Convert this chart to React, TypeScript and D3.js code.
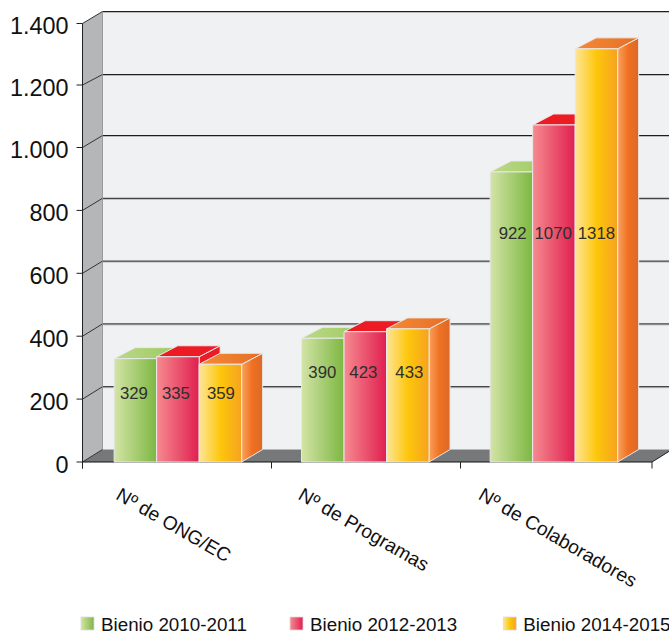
import React from "react";
import * as d3 from "d3";

const categories = ["Nº de ONG/EC", "Nº de Programas", "Nº de Colaboradores"];
const seriesNames = ["Bienio 2010-2011", "Bienio 2012-2013", "Bienio 2014-2015"];
// heights as drawn in the picture
const barsOng = [330, 336, 312];
const barsProgramas = [395, 416, 425];
const barsColaboradores = [926, 1076, 1319];
// printed labels on the bars
const labelsOng = ["329", "335", "359"];
const labelsProgramas = ["390", "423", "433"];
const labelsColaboradores = ["922", "1070", "1318"];
const labelHeights = [221, 287, 731];
const tickValues = [0, 200, 400, 600, 800, 1000, 1200, 1400];

const barRows = [barsOng, barsProgramas, barsColaboradores];
const labelRows = [labelsOng, labelsProgramas, labelsColaboradores];

const W = 669, H = 634;
const x0 = 82.5, xEnd = 652, y0 = 462, yTop = 23.5, dx = 20;
const font = "'Liberation Sans', Arial, sans-serif";

const y = d3.scaleLinear().domain([0, 1400]).range([y0, yTop]);
const gridBack = d3.scaleLinear().domain([0, 1000, 1200, 1400]).range([449.5, 135.5, 74.5, 11.5]);
const gridFront = d3.scaleLinear().domain([0, 1000, 1200, 1400]).range([y0, 147.5, 85, yTop]);
const xGroup = d3.scaleBand<number>().domain([0, 1, 2]).range([x0, 649.5]);
const tickFmt = (v: number) => (v >= 1000 ? d3.format(",")(v).replace(",", ".") : String(v));

// small layout corrections per group
const groupNudge = [0.9, -0.7, -1.1];
const labelNudge = [
  [-1.5, -2, 0.5],
  [-0.5, -2, 1.5],
  [1.3, -0.7, 0],
];

const palettes = [
  { front: ["#d3e4a6", "#7db742"], side: ["#92c36a", "#7db742"], top: ["#bcd98a", "#9cc95f"] },
  { front: ["#f68a90", "#e01f4f"], side: ["#ed1c24", "#ed1c24"], top: ["#ed1c24", "#ed1c24"] },
  { front: ["#fee598", "#fdc70c", "#f6a21e"], side: ["#f9a05c", "#f07122", "#dc6826"], top: ["#f58a36", "#e46f27"] },
];

function Stops({ colors }: { colors: string[] }) {
  return (
    <>
      {colors.map((c, j) => (
        <stop key={j} offset={j / (colors.length - 1)} stopColor={c} />
      ))}
    </>
  );
}

function Bar({ x, w, v, s }: { x: number; w: number; v: number; s: number }) {
  const t = y(v);
  const b = y0;
  const bdx = 21, topDy = -11, baseDy = -12.5;
  return (
    <g stroke="#e9e9e9" strokeWidth={1} strokeLinejoin="round">
      <polygon points={`${x + w},${t} ${x + w + bdx},${t + topDy} ${x + w + bdx},${b + baseDy} ${x + w},${b}`} fill={`url(#side${s})`} />
      <polygon points={`${x},${t} ${x + bdx},${t + topDy} ${x + w + bdx},${t + topDy} ${x + w},${t}`} fill={`url(#top${s})`} />
      <rect x={x} y={t} width={w} height={b - t} fill={`url(#front${s})`} />
    </g>
  );
}

export default function App() {
  const barW = 42.5;
  const tickXs = [x0, ...categories.map((_, i) => (i === 2 ? xEnd : xGroup(i)! + xGroup.bandwidth()))];
  return (
    <svg width={W} height={H} viewBox={`0 0 ${W} ${H}`} style={{ position: "absolute", left: 0, top: 0, display: "block" }}>
      <defs>
        {palettes.map((p, s) => (
          <React.Fragment key={s}>
            <linearGradient id={`front${s}`} x1="0" x2="1" y1="0" y2="0"><Stops colors={p.front} /></linearGradient>
            <linearGradient id={`side${s}`} x1="0" x2="1" y1="0" y2="0"><Stops colors={p.side} /></linearGradient>
            <linearGradient id={`top${s}`} x1="0" x2="1" y1="0" y2="0"><Stops colors={p.top} /></linearGradient>
          </React.Fragment>
        ))}
      </defs>

      {/* back wall */}
      <rect x={x0 + dx} y={gridBack(1400)} width={W - x0 - dx} height={gridBack(0) - gridBack(1400)} fill="#f0f1f3" />
      {/* left wall */}
      <polygon points={`${x0},${yTop} ${x0 + dx},${gridBack(1400)} ${x0 + dx},${gridBack(0)} ${x0},${y0}`} fill="#b5b6b8" />
      {/* floor */}
      <polygon points={`${x0},${y0} ${x0 + dx},${gridBack(0)} ${xEnd + dx},${gridBack(0)} ${xEnd},${y0}`} fill="#76787a" />

      {/* grid */}
      {tickValues.map((t) => (
        <g key={t} fill="none">
          {t > 0 && (
            <>
              <line x1={x0 + dx} x2={W} y1={gridBack(t) + 1} y2={gridBack(t) + 1} stroke="#b9babc" strokeWidth={1} />
              <line x1={x0 + dx} x2={W} y1={gridBack(t)} y2={gridBack(t)} stroke="#1d1d1d" strokeWidth={1} />
            </>
          )}
          <line x1={x0} x2={x0 + dx} y1={gridFront(t)} y2={gridBack(t)} stroke="#333" strokeWidth={1} />
          <line x1={x0 - 6} x2={x0} y1={gridFront(t)} y2={gridFront(t)} stroke="#222" strokeWidth={1} />
          <text x={x0 - 14} y={gridFront(t) + 10.8} textAnchor="end" fontFamily={font} fontSize={23.4} fill="#111">
            {tickFmt(t)}
          </text>
        </g>
      ))}
      <line x1={x0 + dx} x2={x0 + dx} y1={gridBack(1400)} y2={gridBack(0)} stroke="#8a8b8d" strokeWidth={0.8} />

      {/* axes */}
      <line x1={x0} x2={x0} y1={yTop} y2={y0 + 6.5} stroke="#222" strokeWidth={1} />
      <line x1={x0} x2={xEnd} y1={y0} y2={y0} stroke="#111" strokeWidth={1.2} />
      <line x1={xEnd} x2={xEnd + dx} y1={y0} y2={gridBack(0)} stroke="#222" strokeWidth={1} />
      {tickXs.map((tx, i) => (
        <line key={i} x1={tx} x2={tx} y1={y0} y2={y0 + 6.5} stroke="#222" />
      ))}

      {/* bars */}
      {categories.map((c, g) => {
        const cx = xGroup(g)! + xGroup.bandwidth() / 2 + groupNudge[g];
        const left = cx - (barW * 3) / 2;
        return (
          <g key={c}>
            {seriesNames.map((_, s) => (
              <Bar key={s} x={left + s * barW} w={barW} v={barRows[g][s]} s={s} />
            ))}
            {seriesNames.map((_, s) => (
              <text
                key={s}
                x={left + s * barW + barW / 2 + labelNudge[g][s]}
                y={y(labelHeights[g]) + 6}
                textAnchor="middle"
                fontFamily={font}
                fontSize={16.8}
                fill="#2e2e2e"
              >
                {labelRows[g][s]}
              </text>
            ))}
            <text
              transform={`translate(${left + [0.5, -4.5, -13][g]},${498.5}) rotate(30)`}
              fontFamily={font}
              fontSize={19.2}
              fill="#111"
            >
              {c}
            </text>
          </g>
        );
      })}

      {/* legend */}
      {seriesNames.map((n, i) => {
        const lx = [81, 290, 503.3][i];
        return (
          <g key={n}>
            <rect x={lx} y={617} width={13} height={13} fill={`url(#front${i})`} stroke="#ddd" strokeWidth={0.8} />
            <text x={lx + 20} y={630.7} fontFamily={font} fontSize={18.8} fill="#111">
              {n}
            </text>
          </g>
        );
      })}
    </svg>
  );
}
